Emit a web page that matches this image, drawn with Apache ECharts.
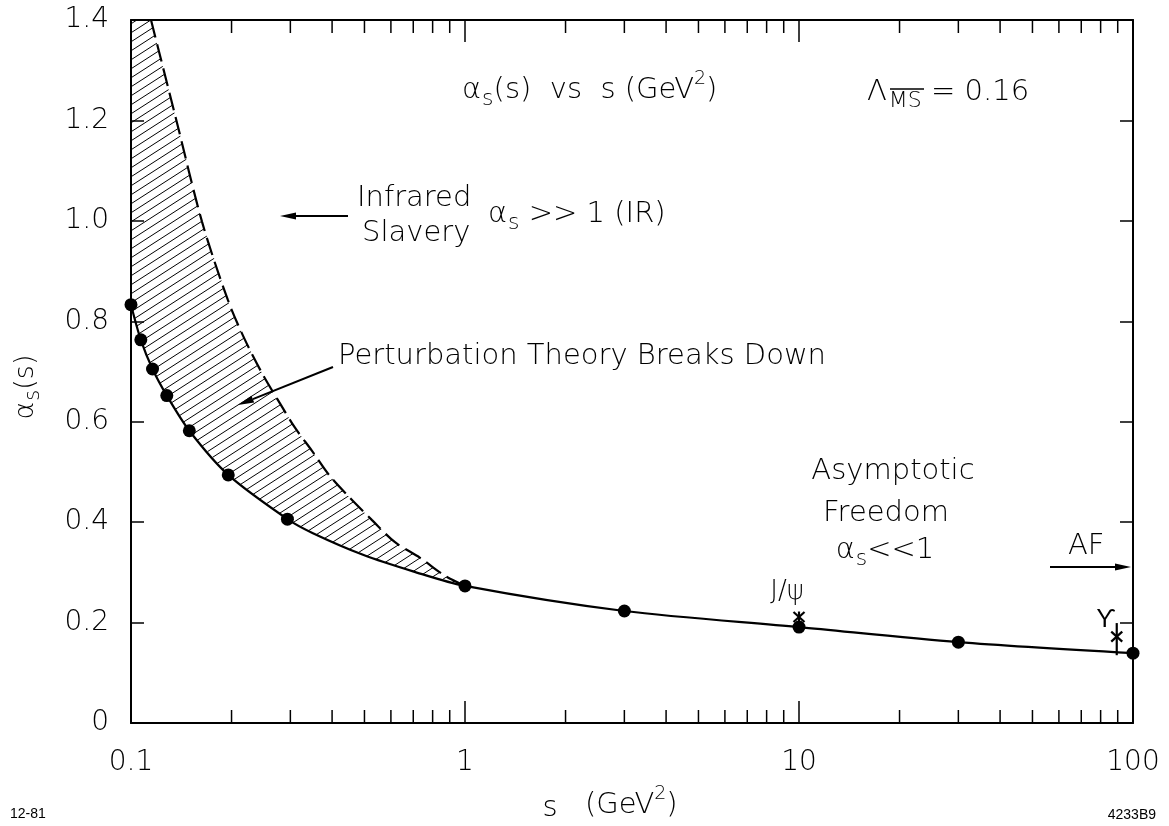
<!DOCTYPE html>
<html><head><meta charset="utf-8">
<script src="https://cdn.jsdelivr.net/npm/echarts@6/dist/echarts.min.js"></script>
<style>html,body{margin:0;padding:0;background:#fff}#c{width:1169px;height:826px}</style>
</head><body><div id="c"></div>
<script>
// ---- data ----
const xTickLabels = ['0.1', '1', '10', '100'];
const yTickValues = [0, 0.2, 0.4, 0.6, 0.8, 1.0, 1.2, 1.4];
const minorTicks = [0.2,0.3,0.4,0.5,0.6,0.7,0.8,0.9,2,3,4,5,6,7,8,9,20,30,40,50,60,70,80,90];

// measured points (filled dots)
const dotS = [0.1, 0.107, 0.116, 0.128, 0.1495, 0.1955, 0.294, 1, 3, 10, 30, 100];
const dotA = [0.833, 0.763, 0.705, 0.652, 0.582, 0.494, 0.406, 0.273, 0.223, 0.191, 0.161, 0.139];

// solid curve alpha_s(s)
const curveS = [0.1, 0.107, 0.116, 0.128, 0.1495, 0.1955, 0.294, 0.3505, 0.495, 0.699, 1, 3, 10, 30, 100];
const curveA = [0.833, 0.763, 0.705, 0.652, 0.582, 0.494, 0.406, 0.378, 0.335, 0.302, 0.273, 0.223, 0.191, 0.161, 0.139];

// dashed boundary (perturbation theory breaks down)
const boundS = [0.1148, 0.1364, 0.1632, 0.1951, 0.2194, 0.2485, 0.2813, 0.3097, 0.3483, 0.3916, 0.4527, 0.5268, 0.6172, 0.7335, 0.8711, 1];
const boundA = [1.400, 1.203, 0.998, 0.842, 0.763, 0.693, 0.633, 0.588, 0.542, 0.494, 0.448, 0.404, 0.360, 0.329, 0.293, 0.273];

// J/psi and Upsilon points (asterisks with error bars)
const starNames = ['J/ψ', 'ϒ'];
const starS = [10, 89.4];
const starA = [0.211, 0.172];
const starLo = [0.200, 0.135];
const starHi = [0.222, 0.199];

const xMin = 0.1, xMax = 100, yMin = 0, yMax = 1.4;
const F = '"DejaVu Sans", sans-serif';
const FW = 200;

// hatch pattern
function makeHatch() {
  const w = 14, h = 9;
  const c = document.createElement('canvas');
  c.width = w; c.height = h;
  const ctx = c.getContext('2d');
  ctx.strokeStyle = '#000'; ctx.lineWidth = 1.0;
  ctx.beginPath();
  for (const k of [-1, 0, 1]) {
    ctx.moveTo(-w, h * (2 + k));
    ctx.lineTo(2 * w, h * (k - 1));
  }
  ctx.stroke();
  return c;
}
const hatch = makeHatch();

const chart = echarts.init(document.getElementById('c'), null, {renderer: 'canvas'});

function T(x, y, text, size, extra) {
  return {type: 'text', x: x, y: y, z: 100,
    style: Object.assign({text: text, fontSize: size, fontFamily: F, fontWeight: FW, fill: '#000', align: 'left', verticalAlign: 'middle'}, extra || {})};
}
function arrow(x1, y1, x2, y2, head, hw) {
  head = head || 16; hw = hw || 3.6;
  const a = Math.atan2(y2 - y1, x2 - x1);
  const bx = x2 - head * Math.cos(a), by = y2 - head * Math.sin(a);
  const px = -Math.sin(a) * hw, py = Math.cos(a) * hw;
  return [
    {type: 'line', z: 100, shape: {x1: x1, y1: y1, x2: bx, y2: by}, style: {stroke: '#000', lineWidth: 2}},
    {type: 'polygon', z: 100, shape: {points: [[x2, y2], [bx + px, by + py], [bx - px, by - py]]}, style: {fill: '#000'}}
  ];
}
const richBase = {
  a: {fontSize: 29, fontFamily: F, fontWeight: FW, fill: '#000'},
  s: {fontSize: 22, fontFamily: F, fontWeight: FW, fill: '#000', padding: [18, 0, 0, 1]},
  p: {fontSize: 19, fontFamily: F, fontWeight: FW, fill: '#000', padding: [0, 0, 22, 0]}
};

const graphics = [].concat(
  [T(462, 90, '{a|α}{s|s}{a|(s)  vs  s (GeV}{p|2}{a|)}', 29, {rich: richBase})],
  [T(867, 92, '{a|Λ}{m|MS}{a| = 0.16}', 29, {rich: {a: richBase.a, m: {fontSize: 22, fontFamily: F, fontWeight: FW, fill: '#000', padding: [18, 0, 0, 2]}}})],
  [{type: 'line', z: 100, shape: {x1: 890, y1: 89, x2: 924, y2: 89}, style: {stroke: '#000', lineWidth: 1.5}}],
  [T(357, 198, 'Infrared', 29), T(362, 233, 'Slavery', 29)],
  arrow(348, 216, 280, 216),
  [T(488, 214, '{a|α}{s|s}{a| >> 1 (IR)}', 29, {rich: richBase})],
  [T(338, 356, 'Perturbation Theory Breaks Down', 29)],
  arrow(333, 367, 238, 405),
  [T(893, 471, 'Asymptotic', 29, {align: 'center'}),
   T(886, 513, 'Freedom', 29, {align: 'center'}),
   T(885, 550, '{a|α}{s|s}{a|<<1}', 29, {align: 'center', rich: richBase})],
  [T(1068, 546, 'AF', 29)],
  arrow(1050, 567, 1131, 567),
  [T(787, 592, starNames[0], 26, {align: 'center'}), T(1106, 620, starNames[1], 25, {align: 'center'})],
  [{type: 'text', x: 26, y: 387, rotation: Math.PI / 2, z: 100,
    style: {text: '{a|α}{s|s}{a|(s)}', align: 'center', verticalAlign: 'middle',
      rich: {a: {fontSize: 27, fontFamily: F, fontWeight: FW, fill: '#000'}, s: {fontSize: 21, fontFamily: F, fontWeight: FW, fill: '#000', padding: [16, 0, 0, 1]}}}}],
  [T(550, 808, 's', 29, {align: 'center'}),
   T(585, 805, '{a|(GeV}{p|2}{a|)}', 29, {rich: richBase})],
  [T(10, 814, '12-81', 14, {fontFamily: '"Liberation Sans", sans-serif', fontWeight: 400}),
   T(1156, 815, '4233B9', 14, {fontFamily: '"Liberation Sans", sans-serif', fontWeight: 400, align: 'right'})]
);

const axisCommon = {
  z: 5,
  axisLine: {show: true, onZero: false, lineStyle: {color: '#000', width: 2}},
  splitLine: {show: false},
  minorTick: {show: false}
};

const option = {
  animation: false,
  backgroundColor: '#fff',
  grid: {left: 131, right: 36, top: 20, bottom: 103},
  xAxis: [
    Object.assign({}, axisCommon, {
      type: 'log', logBase: 10, min: xMin, max: xMax, position: 'bottom',
      axisTick: {show: true, inside: true, length: 22, lineStyle: {color: '#000', width: 1.5}},
      axisLabel: {show: true, margin: 26, fontSize: 28, fontFamily: F, fontWeight: FW, color: '#000',
        formatter: function (v) { return xTickLabels[Math.round(Math.log10(v)) + 1]; }}
    }),
    Object.assign({}, axisCommon, {
      type: 'log', logBase: 10, min: xMin, max: xMax, position: 'top',
      axisTick: {show: true, inside: true, length: 22, lineStyle: {color: '#000', width: 1.5}},
      axisLabel: {show: false}
    })
  ],
  yAxis: [
    Object.assign({}, axisCommon, {
      type: 'value', min: yMin, max: yMax, interval: 0.2, position: 'left',
      axisTick: {show: true, inside: true, length: 13, lineStyle: {color: '#000', width: 1.5}},
      axisLabel: {show: true, margin: 22, fontSize: 28, fontFamily: F, fontWeight: FW, color: '#000',
        formatter: function (v) { const i = yTickValues.findIndex(t => Math.abs(t - v) < 1e-6); return i === 0 ? '0' : yTickValues[i].toFixed(1); }}
    }),
    Object.assign({}, axisCommon, {
      type: 'value', min: yMin, max: yMax, interval: 0.2, position: 'right',
      axisTick: {show: true, inside: true, length: 13, lineStyle: {color: '#000', width: 1.5}},
      axisLabel: {show: false}
    })
  ],
  series: [
    { // hatched region between solid curve and dashed boundary
      type: 'custom', coordinateSystem: 'cartesian2d', xAxisIndex: 0, yAxisIndex: 0,
      clip: true, silent: true, z: 1,
      data: [[xMin, yMax]],
      renderItem: function (params, api) {
        const pts = [api.coord([xMin, yMax])];
        boundS.forEach((s, i) => pts.push(api.coord([s, boundA[i]])));
        for (let i = curveS.length - 1; i >= 0; i--) {
          if (curveS[i] <= 1) pts.push(api.coord([curveS[i], curveA[i]]));
        }
        return {type: 'polygon', shape: {points: pts}, style: {fill: {image: hatch, repeat: 'repeat'}, stroke: null}};
      }
    },
    { // minor log ticks on bottom and top axes
      type: 'custom', coordinateSystem: 'cartesian2d', xAxisIndex: 0, yAxisIndex: 0,
      clip: false, silent: true, z: 6,
      data: minorTicks.map(v => [v, yMin]),
      renderItem: function (params, api) {
        const pb = api.coord([api.value(0), yMin]);
        const pt = api.coord([api.value(0), yMax]);
        const len = 13;
        return {type: 'group', children: [
          {type: 'line', shape: {x1: pb[0], y1: pb[1], x2: pb[0], y2: pb[1] - len}, style: {stroke: '#000', lineWidth: 1.5}},
          {type: 'line', shape: {x1: pt[0], y1: pt[1], x2: pt[0], y2: pt[1] + len}, style: {stroke: '#000', lineWidth: 1.5}}
        ]};
      }
    },
    {
      type: 'line', data: curveS.map((s, i) => [s, curveA[i]]), smooth: 0.3,
      showSymbol: false, symbol: 'none', silent: true, z: 3,
      lineStyle: {color: '#000', width: 2.2}
    },
    {
      type: 'line', data: boundS.map((s, i) => [s, boundA[i]]), smooth: 0.3,
      showSymbol: false, symbol: 'none', silent: true, z: 3,
      lineStyle: {color: '#000', width: 2.2, type: [18, 7]}
    },
    {
      type: 'scatter', data: dotS.map((s, i) => [s, dotA[i]]), symbol: 'circle', symbolSize: 13,
      itemStyle: {color: '#000', opacity: 1}, silent: true, z: 7
    },
    { // asterisks with error bars
      type: 'custom', coordinateSystem: 'cartesian2d', xAxisIndex: 0, yAxisIndex: 0,
      clip: false, silent: true, z: 8,
      data: starS.map((s, i) => [s, starA[i], starLo[i], starHi[i]]),
      renderItem: function (params, api) {
        const c = api.coord([api.value(0), api.value(1)]);
        const lo = api.coord([api.value(0), api.value(2)]);
        const hi = api.coord([api.value(0), api.value(3)]);
        const st = {stroke: '#000', lineWidth: 2.2};
        return {type: 'group', children: [
          {type: 'line', shape: {x1: c[0], y1: hi[1], x2: c[0], y2: lo[1]}, style: st},
          {type: 'line', shape: {x1: c[0] - 5.5, y1: c[1] - 5, x2: c[0] + 5.5, y2: c[1] + 5}, style: st},
          {type: 'line', shape: {x1: c[0] - 5.5, y1: c[1] + 5, x2: c[0] + 5.5, y2: c[1] - 5}, style: st}
        ]};
      }
    }
  ],
  graphic: {elements: graphics}
};
chart.setOption(option);
</script>
</body></html>
